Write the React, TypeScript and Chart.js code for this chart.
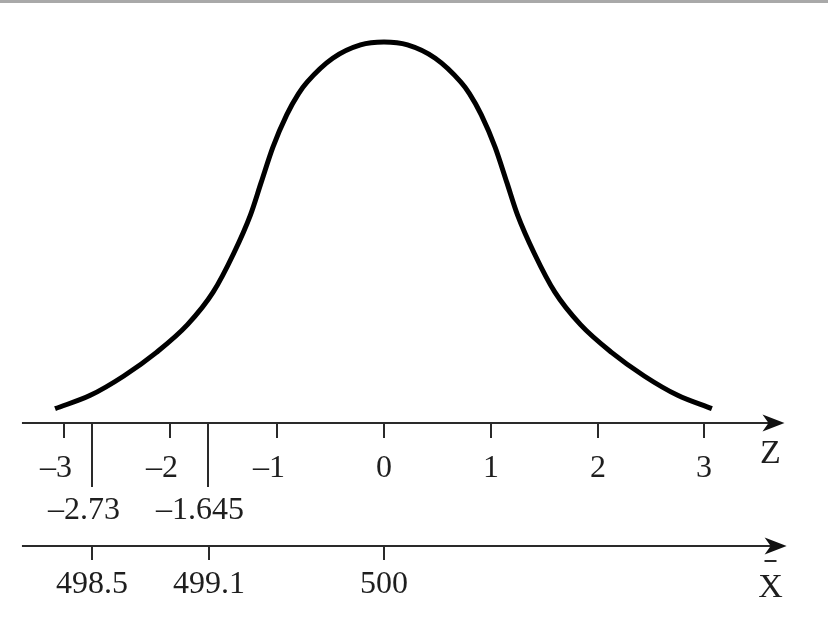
import React, { useEffect, useRef } from "react";
import { Chart, registerables } from "chart.js";

Chart.register(...registerables);

// Curve: standardized value z and curve height (density units)
const curveZ = [
  -3.08, -2.75, -2.44, -2.13, -1.84, -1.6, -1.41, -1.25, -1.15, -1.04, -0.91, -0.8, -0.72, -0.48, -0.22, 0,
  0.22, 0.48, 0.72, 0.8, 0.91, 1.04, 1.15, 1.25, 1.41, 1.6, 1.84, 2.13, 2.44, 2.75, 3.07,
];
const curveDensity = [
  0.015, 0.029, 0.049, 0.074, 0.103, 0.137, 0.177, 0.218, 0.252, 0.289, 0.323, 0.345, 0.357, 0.382, 0.396, 0.399,
  0.396, 0.382, 0.357, 0.345, 0.323, 0.289, 0.252, 0.218, 0.177, 0.137, 0.103, 0.074, 0.049, 0.029, 0.015,
];

// Z axis ticks and critical markers
const zTicks = [-3, -2, -1, 0, 1, 2, 3];
const zTickLabels = ["–3", "–2", "–1", "0", "1", "2", "3"];
const zMarks = [-2.73, -1.645];
const zMarkLabels = ["–2.73", "–1.645"];

// X-bar axis ticks
const xbarTicks = [498.5, 499.1, 500];
const xbarTickLabels = ["498.5", "499.1", "500"];
const XBAR_MEAN = 500;
const XBAR_SE = 0.549;

// view ranges
const Z_MIN = -3.5955;
const Z_MAX = 4.1573;
const Y_MIN = -0.2042;
const Y_MAX = 0.443;
const AXIS_Z_START = -3.39;
const AXIS_Z_END = 3.75;
const AXIS_XBAR_Z_END = 3.77;

const FONT = '"Liberation Serif", "Times New Roman", serif';

function drawLabel(ctx: CanvasRenderingContext2D, text: string, x: number, y: number) {
  // numbers are centred on the tick, a leading dash hangs to the left
  if (text.startsWith("–")) {
    const numW = ctx.measureText(text.slice(1)).width;
    const dashW = ctx.measureText("–").width;
    ctx.textAlign = "left";
    ctx.fillText(text, x - numW / 2 - dashW, y);
  } else {
    ctx.textAlign = "center";
    ctx.fillText(text, x, y);
  }
}

function arrow(ctx: CanvasRenderingContext2D, tx: number, y: number) {
  ctx.beginPath();
  ctx.moveTo(tx, y);
  ctx.lineTo(tx - 22, y - 8.5);
  ctx.lineTo(tx - 16, y);
  ctx.lineTo(tx - 22, y + 8.5);
  ctx.closePath();
  ctx.fill();
}

const axesPlugin = {
  id: "statAxes",
  afterDraw(chart: any) {
    const { ctx, chartArea } = chart;
    const xs = chart.scales.x;
    const xb = chart.scales.xbar;
    const ys = chart.scales.y;
    const zY = Math.round(ys.getPixelForValue(0));
    const bY = zY + 123;
    ctx.save();

    // top rule
    ctx.fillStyle = "#a9a9a9";
    ctx.fillRect(chartArea.left, chartArea.top, chartArea.right - chartArea.left, 3);

    ctx.strokeStyle = "#2a2a2a";
    ctx.lineWidth = 2;

    // Z axis line
    const zStart = xs.getPixelForValue(AXIS_Z_START);
    const zEnd = xs.getPixelForValue(AXIS_Z_END);
    ctx.beginPath();
    ctx.moveTo(zStart, zY);
    ctx.lineTo(zEnd - 10, zY);
    ctx.stroke();
    ctx.fillStyle = "#111";
    arrow(ctx, zEnd, zY);

    // X-bar axis line
    const bEnd = xs.getPixelForValue(AXIS_XBAR_Z_END);
    ctx.beginPath();
    ctx.moveTo(zStart, bY);
    ctx.lineTo(bEnd - 10, bY);
    ctx.stroke();
    arrow(ctx, bEnd, bY);

    ctx.fillStyle = "#1e1e1e";
    ctx.font = `32px ${FONT}`;
    ctx.textBaseline = "alphabetic";

    // Z ticks
    zTicks.forEach((v, i) => {
      const x = Math.round(xs.getPixelForValue(v));
      ctx.beginPath();
      ctx.moveTo(x, zY);
      ctx.lineTo(x, zY + 15);
      ctx.stroke();
      drawLabel(ctx, zTickLabels[i], x, zY + 54);
    });

    // Z markers
    zMarks.forEach((v, i) => {
      const x = Math.round(xs.getPixelForValue(v));
      ctx.beginPath();
      ctx.moveTo(x, zY);
      ctx.lineTo(x, zY + 64);
      ctx.stroke();
      drawLabel(ctx, zMarkLabels[i], x, zY + 96);
    });

    // X-bar ticks
    xbarTicks.forEach((v, i) => {
      const x = Math.round(xb.getPixelForValue(v));
      ctx.beginPath();
      ctx.moveTo(x, bY);
      ctx.lineTo(x, bY + 14);
      ctx.stroke();
      drawLabel(ctx, xbarTickLabels[i], x, bY + 47);
    });

    // axis names
    ctx.font = `34px ${FONT}`;
    ctx.textAlign = "center";
    const nameX = xs.getPixelForValue(AXIS_Z_END) - 14;
    ctx.fillText("Z", nameX, zY + 40);
    ctx.fillText("X", nameX, bY + 51);
    ctx.beginPath();
    ctx.moveTo(nameX - 6, bY + 15);
    ctx.lineTo(nameX + 6, bY + 15);
    ctx.stroke();

    ctx.restore();
  },
};

export default function App() {
  const ref = useRef<HTMLCanvasElement | null>(null);
  useEffect(() => {
    if (!ref.current) return;
    const chart = new Chart(ref.current, {
      type: "line",
      data: {
        datasets: [
          {
            data: curveZ.map((z, i) => ({ x: z, y: curveDensity[i] })),
            borderColor: "#000",
            borderWidth: 5,
            pointRadius: 0,
            cubicInterpolationMode: "monotone",
            fill: false,
            xAxisID: "x",
            yAxisID: "y",
          },
        ],
      },
      options: {
        responsive: false,
        animation: false,
        events: [],
        layout: { padding: 0 },
        plugins: { legend: { display: false }, tooltip: { enabled: false } },
        scales: {
          x: { type: "linear", display: false, min: Z_MIN, max: Z_MAX },
          xbar: {
            type: "linear",
            axis: "x",
            display: false,
            min: XBAR_MEAN + XBAR_SE * Z_MIN,
            max: XBAR_MEAN + XBAR_SE * Z_MAX,
          },
          y: { type: "linear", display: false, min: Y_MIN, max: Y_MAX },
        },
      },
      plugins: [axesPlugin],
    } as any);
    return () => chart.destroy();
  }, []);
  return (
    <div style={{ position: "fixed", left: 0, top: 0, width: 828, height: 618, background: "#fff" }}>
      <canvas ref={ref} width={828} height={618} />
    </div>
  );
}
